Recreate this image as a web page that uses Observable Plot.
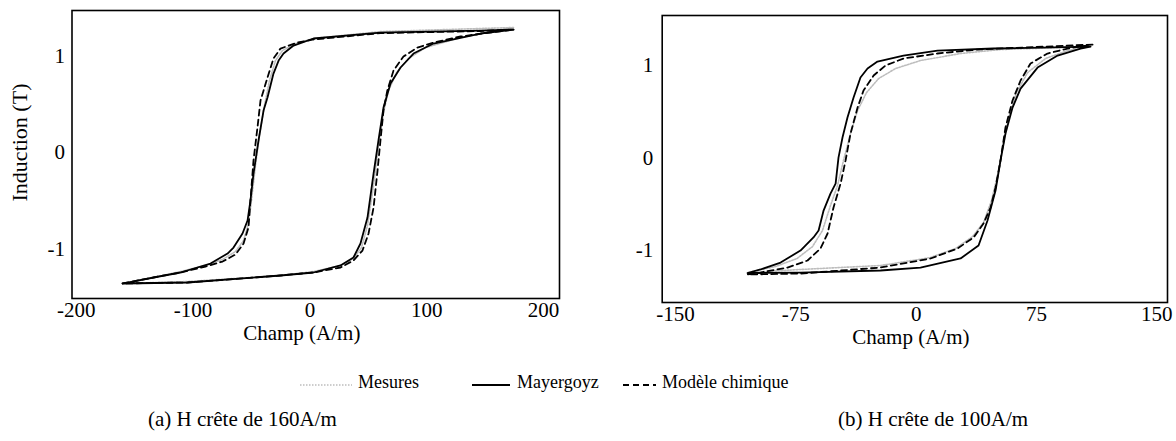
<!DOCTYPE html>
<html>
<head>
<meta charset="utf-8">
<script src="https://cdn.jsdelivr.net/npm/d3@7"></script>
<script src="https://cdn.jsdelivr.net/npm/@observablehq/plot@0.6"></script>
<style>
html, body { margin: 0; padding: 0; background: #fff; }
#root { position: relative; width: 1176px; height: 441px; font-family: "Liberation Serif", "Times New Roman", "DejaVu Serif", serif; color: #000; overflow: hidden; }
.plot { position: absolute; top: 0; }
.t { position: absolute; white-space: nowrap; }
.sw { position: absolute; }
</style>
</head>
<body>
<div id="root"></div>
<script>
// ---- Tick labels ----
const ticksAx = [-200, -100, 0, 100, 200];
const ticksBx = [-150, -75, 0, 75, 150];
const ticksY = [-1, 0, 1];

// ---- Series names ----
const series = ["Mesures", "Mayergoyz", "Modèle chimique"];

// ---- (a) H crête de 160 A/m : loops as [H (A/m), B (T)] ----
const aMesures = [
  [174.3,1.298],[146.0,1.288],[60.4,1.256],[3.1,1.184],[-12.3,1.132],[-23.5,1.059],[-29.5,0.955],[-34.6,0.748],
  [-38.9,0.488],[-43.2,0.177],[-46.6,-0.135],[-50.0,-0.498],[-52.6,-0.737],[-56.8,-0.914],[-63.7,-1.028],
  [-74.8,-1.111],[-89.4,-1.173],[-110.8,-1.236],[-133.9,-1.298],[-160.4,-1.360],
  [-104.8,-1.340],[-25.2,-1.277],[3.1,-1.236],[26.2,-1.173],[37.3,-1.101],[44.2,-0.987],[49.3,-0.758],
  [54.5,-0.343],[58.7,0.073],[63.0,0.415],[67.3,0.644],[74.2,0.831],[84.4,0.976],[99.0,1.090],[129.0,1.194],[174.3,1.298]
];
const aMayergoyz = [
  [174.3,1.277],[146.0,1.267],[60.4,1.246],[3.1,1.184],[-14.0,1.111],[-22.6,1.028],[-26.8,0.955],[-31.2,0.820],
  [-36.3,0.571],[-39.7,0.436],[-44.0,0.125],[-48.3,-0.218],[-50.9,-0.498],[-53.4,-0.706],[-57.7,-0.841],
  [-65.4,-0.987],[-70.5,-1.049],[-85.1,-1.153],[-110.8,-1.246],[-133.9,-1.298],[-156.2,-1.350],[-160.4,-1.360],
  [-104.8,-1.350],[-25.2,-1.277],[3.1,-1.246],[26.2,-1.173],[37.3,-1.090],[43.3,-0.945],[49.3,-0.675],
  [54.5,-0.218],[58.7,0.125],[63.0,0.467],[69.0,0.717],[77.6,0.883],[88.7,1.028],[105.8,1.132],[146.0,1.236],[174.3,1.277]
];
const aChimique = [
  [174.3,1.277],[146.0,1.262],[60.4,1.240],[3.1,1.174],[-10.6,1.142],[-25.2,1.080],[-31.2,0.976],[-36.3,0.779],
  [-42.3,0.540],[-44.9,0.260],[-48.3,-0.083],[-50.9,-0.498],[-52.6,-0.779],[-56.8,-0.945],[-63.7,-1.059],
  [-74.8,-1.132],[-89.4,-1.184],[-110.8,-1.246],[-133.9,-1.298],[-160.4,-1.360],
  [-104.8,-1.350],[-25.2,-1.277],[3.1,-1.246],[26.2,-1.194],[37.3,-1.121],[45.0,-1.018],[50.2,-0.841],
  [54.5,-0.571],[57.9,-0.187],[60.4,0.125],[63.0,0.436],[66.3,0.644],[71.6,0.852],[80.1,0.997],[92.0,1.090],
  [105.8,1.142],[129.0,1.205],[174.3,1.277]
];

// ---- (b) H crête de 100 A/m ----
const bMesures = [
  [108.7,1.205],[52.6,1.173],[27.7,1.130],[2.7,1.054],[-12.8,0.968],[-23.4,0.859],[-30.9,0.708],[-36.5,0.514],
  [-40.9,0.265],[-45.3,-0.027],[-49.0,-0.297],[-53.4,-0.514],[-58.4,-0.784],[-64.6,-0.957],[-74.2,-1.086],
  [-87.7,-1.173],[-105.1,-1.238],
  [-72.1,-1.205],[-22.2,-1.162],[9.0,-1.076],[24.6,-0.978],[35.2,-0.849],[42.0,-0.697],[47.0,-0.459],
  [50.7,-0.189],[53.9,0.103],[57.6,0.427],[62.6,0.708],[69.5,0.924],[80.7,1.076],[94.4,1.162],[108.7,1.205]
];
const bMayergoyz = [
  [108.7,1.205],[48.2,1.184],[13.3,1.162],[-7.9,1.108],[-24.1,1.043],[-30.3,0.968],[-34.7,0.870],[-39.0,0.654],
  [-42.8,0.438],[-45.9,0.222],[-48.4,0.005],[-50.2,-0.276],[-53.4,-0.384],[-57.7,-0.568],[-60.8,-0.784],
  [-64.0,-0.859],[-72.1,-1.000],[-84.5,-1.130],[-97.0,-1.205],[-105.1,-1.243],
  [-72.1,-1.238],[-22.2,-1.216],[2.7,-1.184],[27.7,-1.086],[38.9,-0.946],[44.5,-0.676],[49.5,-0.351],
  [52.6,-0.027],[55.7,0.265],[60.1,0.546],[65.1,0.751],[75.7,0.978],[88.2,1.108],[102.5,1.184],[108.7,1.205]
];
const bChimique = [
  [110.0,1.227],[38.3,1.173],[13.3,1.130],[-7.9,1.076],[-19.1,1.000],[-26.5,0.892],[-32.8,0.730],[-36.5,0.546],
  [-40.9,0.265],[-44.0,-0.027],[-47.1,-0.276],[-51.5,-0.535],[-55.2,-0.816],[-59.6,-0.978],[-67.7,-1.108],
  [-80.2,-1.184],[-97.0,-1.238],[-105.1,-1.259],
  [-72.1,-1.249],[-22.2,-1.184],[9.0,-1.086],[25.8,-0.978],[35.8,-0.859],[42.0,-0.708],[46.4,-0.535],
  [49.5,-0.319],[52.6,-0.027],[55.7,0.330],[60.1,0.622],[65.1,0.838],[71.3,1.022],[81.9,1.130],[94.4,1.184],[110.0,1.227]
];

// ---- build tidy table ----
function rows(panel, serie, pts) { return pts.map(([H, B], i) => ({panel, serie, H, B, i})); }
const table = [
  ...rows("a", "Mesures", aMesures), ...rows("a", "Mayergoyz", aMayergoyz), ...rows("a", "Modèle chimique", aChimique),
  ...rows("b", "Mesures", bMesures), ...rows("b", "Mayergoyz", bMayergoyz), ...rows("b", "Modèle chimique", bChimique)
];

const styles = {
  "Mesures": {stroke: "#bdbdbd", strokeWidth: 1.6, strokeDasharray: "1.5,1.5"},
  "Mayergoyz": {stroke: "#000", strokeWidth: 1.8},
  "Modèle chimique": {stroke: "#000", strokeWidth: 1.8, strokeDasharray: "6,4"}
};

const fontStyle = {fontFamily: "'Liberation Serif', 'Times New Roman', 'DejaVu Serif', serif", fontSize: "21px", background: "transparent", color: "#000", overflow: "visible"};

function panel(p, cfg) {
  const marks = [Plot.frame({stroke: "#000", strokeWidth: 1.6})];
  for (const s of series) {
    marks.push(Plot.line(table.filter(d => d.panel === p && d.serie === s), {x: "H", y: "B", strokeLinejoin: "round", ...styles[s]}));
  }
  marks.push(Plot.text(["Champ (A/m)"], {frameAnchor: "bottom", textAnchor: "middle", lineAnchor: "middle", dx: cfg.xlabDx, dy: cfg.xlabDy, fontSize: 21}));
  if (cfg.ylabel) marks.push(Plot.text([cfg.ylabel], {frameAnchor: "left", textAnchor: "middle", rotate: -90, lineAnchor: "middle", dx: cfg.ylabDx, dy: cfg.ylabDy, fontSize: 22}));
  return Plot.plot({
    width: cfg.width, height: cfg.height,
    marginLeft: cfg.ml, marginRight: cfg.mr, marginTop: cfg.mt, marginBottom: cfg.mb,
    style: fontStyle,
    x: {domain: cfg.xdom, ticks: cfg.xticks, tickSize: 0, tickPadding: 4, tickFormat: d => String(d), label: null},
    y: {domain: cfg.ydom, ticks: ticksY, tickSize: 0, tickPadding: cfg.ypad, tickFormat: d => String(d), label: null},
    marks
  });
}

const root = document.getElementById("root");

const pa = panel("a", {width: 580, height: 355, ml: 71.5, mr: 21, mt: 10, mb: 57,
  xdom: [-203.7, 213.7], ydom: [-1.516, 1.475], xticks: ticksAx, ypad: 7,
  xlabDx: -14, xlabDy: 35, ylabel: "Induction (T)", ylabDx: -52, ylabDy: -12});
pa.classList.add("plot"); pa.style.left = "0px";
root.appendChild(pa);

const pb = panel("b", {width: 586, height: 360, ml: 71.7, mr: 9, mt: 15, mb: 58,
  xdom: [-158.3, 156.7], ydom: [-1.562, 1.541], xticks: ticksBx, ypad: 9,
  xlabDx: -4, xlabDy: 35});
pb.classList.add("plot"); pb.style.left = "590px";
root.appendChild(pb);

// ---- legend & captions (HTML) ----
function addText(txt, left, cy, size) {
  const d = document.createElement("div");
  d.className = "t"; d.textContent = txt;
  d.style.fontSize = size + "px"; d.style.lineHeight = size + "px";
  d.style.left = left + "px"; d.style.top = (cy - size / 2) + "px";
  root.appendChild(d);
}
function addSwatch(x1, x2, cy, st) {
  const ns = "http://www.w3.org/2000/svg";
  const svg = document.createElementNS(ns, "svg");
  svg.setAttribute("class", "sw");
  svg.setAttribute("width", x2 - x1); svg.setAttribute("height", 6);
  svg.style.left = x1 + "px"; svg.style.top = (cy - 3) + "px";
  const l = document.createElementNS(ns, "line");
  l.setAttribute("x1", 0); l.setAttribute("x2", x2 - x1); l.setAttribute("y1", 3); l.setAttribute("y2", 3);
  l.setAttribute("stroke", st.stroke); l.setAttribute("stroke-width", st.strokeWidth);
  if (st.strokeDasharray) l.setAttribute("stroke-dasharray", st.strokeDasharray);
  svg.appendChild(l);
  root.appendChild(svg);
}
const legendY = 382;
addSwatch(300, 352, legendY + 3, styles["Mesures"]);
addText("Mesures", 358, legendY, 18);
addSwatch(472, 510, legendY + 3, styles["Mayergoyz"]);
addText("Mayergoyz", 517, legendY, 18);
addSwatch(623, 656, legendY + 3, styles["Modèle chimique"]);
addText("Modèle chimique", 662, legendY, 18);

addText("(a) H crête de 160A/m", 148, 419, 21);
addText("(b) H crête de 100A/m", 838, 419, 21);
</script>
</body>
</html>
